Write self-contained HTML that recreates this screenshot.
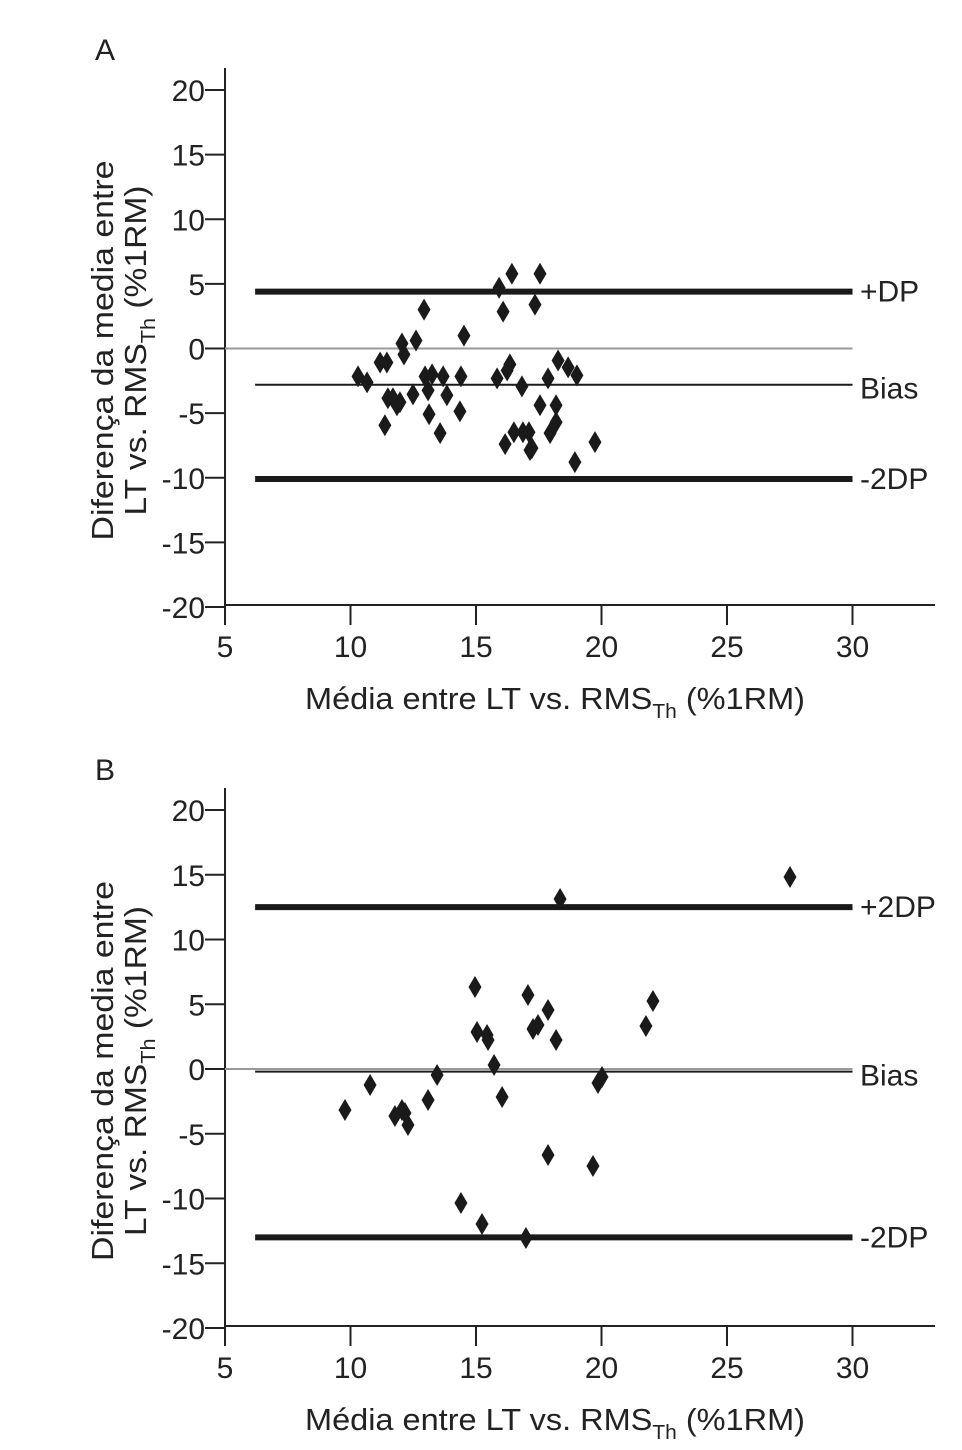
<!DOCTYPE html>
<html><head><meta charset="utf-8">
<style>
body{margin:0;background:#fff;}
svg{display:block;font-family:"Liberation Sans",Arial,sans-serif;}
</style></head>
<body>
<svg id="chart" width="962" height="1450" viewBox="0 0 962 1450"></svg>
<script>
const xTicks=[5,10,15,20,25,30];
const yTicks=[20,15,10,5,0,-5,-10,-15,-20];
const aX=[10.3,10.66,11.18,11.45,11.37,11.49,11.69,11.85,11.97,12.05,12.13,12.49,12.61,12.93,12.97,13.09,13.13,13.25,13.57,13.69,13.84,14.36,14.4,14.52,15.84,15.92,16.08,16.16,16.24,16.35,16.43,16.51,16.83,16.87,17.11,17.15,17.23,17.35,17.55,17.55,17.87,17.95,18.19,18.19,18.27,18.67,18.94,19.02,19.74];
const aY=[-2.16,-2.62,-1.08,-1.08,-5.94,-3.85,-3.85,-4.39,-4.16,0.39,-0.46,-3.55,0.62,3.01,-2.16,-3.24,-5.09,-2.0,-6.55,-2.16,-3.62,-4.86,-2.16,1.0,-2.31,4.7,2.85,-7.4,-1.7,-1.23,5.78,-6.48,-2.93,-6.48,-6.48,-7.86,-7.71,3.39,5.78,-4.39,-2.31,-6.55,-5.71,-4.39,-0.93,-1.46,-8.79,-2.08,-7.24];
const aLines=[4.4,-2.8,-10.1];
const aLineLabels=["+DP","Bias","-2DP"];
const bX=[9.78,10.78,11.77,12.05,12.17,12.29,13.09,13.45,14.4,14.96,15.04,15.44,15.48,15.72,16.04,15.24,17.07,17.27,17.47,17.87,18.19,17.87,19.66,19.86,20.02,21.77,22.05,16.99,18.35,27.51];
const bY=[-3.17,-1.24,-3.63,-3.17,-3.4,-4.32,-2.39,-0.46,-10.35,6.33,2.86,2.63,2.24,0.31,-2.16,-11.97,5.71,3.09,3.4,4.56,2.24,-6.64,-7.49,-1.08,-0.62,3.32,5.25,-13.05,13.13,14.83];
const bLines=[12.5,-0.2,-13];
const bLineLabels=["+2DP","Bias","-2DP"];

const NS="http://www.w3.org/2000/svg";
const svg=document.getElementById('chart');
function mk(tag,attrs,parent){const e=document.createElementNS(NS,tag);for(const k in attrs)e.setAttribute(k,attrs[k]);(parent||svg).appendChild(e);return e;}

function panel(letter,y20,yM20,X,Y,lines,labels,key){
  const g=mk('g',{});
  
  
  const sx=v=>225+(v-5)*25.1;
  const sy=v=>y20+(20-v)*(yM20-y20)/40;
  const axisY=yM20-2;
  const t=mk('text',{x:95,y:y20-30,'font-size':30,fill:'#222'},g);t.textContent=letter;
  
  const ya=mk('line',{x1:225,y1:y20-22,x2:225,y2:axisY,stroke:'#222','stroke-width':2},g);
  
  const xa=mk('line',{x1:224,y1:axisY,x2:935,y2:axisY,stroke:'#222','stroke-width':2},g);
  
  yTicks.forEach(v=>{
    const tk=mk('line',{x1:205,y1:sy(v),x2:225,y2:sy(v),stroke:'#222','stroke-width':2},g);
    
    const tl=mk('text',{x:205,y:sy(v)+11,'font-size':30,'text-anchor':'end',fill:'#222'},g);tl.textContent=v;
    
  });
  xTicks.forEach(v=>{
    const tk=mk('line',{x1:sx(v),y1:axisY,x2:sx(v),y2:axisY+20,stroke:'#222','stroke-width':2},g);
    
    const tl=mk('text',{x:sx(v),y:axisY+52,'font-size':30,'text-anchor':'middle',fill:'#222'},g);tl.textContent=v;
    
  });
  const z=mk('line',{x1:225,y1:sy(0),x2:sx(30),y2:sy(0),stroke:'#999','stroke-width':2},g);
  
  lines.forEach((v,i)=>{
    const w=i==1?2:6;
    const l=mk('line',{x1:sx(6.2),y1:sy(v),x2:sx(30),y2:sy(v),stroke:'#1a1a1a','stroke-width':w},g);
    
    
    const tl=mk('text',{x:860,y:sy(v)+(i==1?14:10),'font-size':30,fill:'#222'},g);tl.textContent=labels[i];
    
  });
  X.forEach((x,i)=>{
    const cx=sx(x),cy=sy(Y[i]);
    const p=mk('polygon',{points:`${cx},${cy-11} ${cx+6.5},${cy} ${cx},${cy+11} ${cx-6.5},${cy}`,fill:'#1a1a1a'},g);
    
  });
  const xt=mk('text',{x:555,y:axisY+104,'font-size':31,'text-anchor':'middle',fill:'#222',textLength:500,lengthAdjust:'spacingAndGlyphs'},g);
  xt.innerHTML='Média entre LT vs. RMS<tspan font-size="20" dy="9">Th</tspan><tspan dy="-9"> (%1RM)</tspan>';
  
  const cy=(y20+yM20)/2+2;
  const yt=mk('text',{transform:`translate(113,${cy}) rotate(-90)`,'font-size':31,'text-anchor':'middle',fill:'#222',textLength:380,lengthAdjust:'spacingAndGlyphs'},g);
  yt.textContent='Diferença da media entre';
  
  const yt2=mk('text',{transform:`translate(146,${cy}) rotate(-90)`,'font-size':31,'text-anchor':'middle',fill:'#222',textLength:330,lengthAdjust:'spacingAndGlyphs'},g);
  yt2.innerHTML='LT vs. RMS<tspan font-size="20" dy="9">Th</tspan><tspan dy="-9"> (%1RM)</tspan>';
  
}
panel('A',90,607,aX,aY,aLines,aLineLabels,'a');
panel('B',810,1328,bX,bY,bLines,bLineLabels,'b');
</script>
</body></html>
